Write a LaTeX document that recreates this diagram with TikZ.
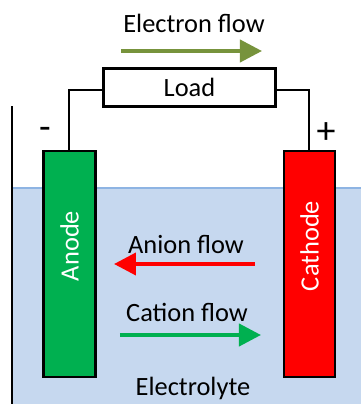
\documentclass[tikz,border=0pt]{standalone}
\usepackage{fontspec}
\setmainfont{Carlito}
\usetikzlibrary{arrows.meta}
\definecolor{anodegreen}{HTML}{00B050}
\definecolor{olive}{HTML}{77933C}
\definecolor{liquid}{HTML}{C6D8EF}
\definecolor{liquidedge}{HTML}{8EB4E3}
\begin{document}
\begin{tikzpicture}[x=0.5pt,y=0.5pt,every node/.style={font=\fontsize{13.2}{15}\selectfont},
		electrode/.style={draw=black,line width=1.4pt,minimum width=26pt,minimum height=113pt,inner sep=0pt},
		flow/.style={line width=2pt,-{Triangle[length=11pt,width=11pt]}}]
			\useasboundingbox (0,0) rectangle (361,404);
			\fill[liquid] (12,0) rectangle (361,216);
			\draw[liquidedge,line width=1pt] (12,216) -- (361,216);
			\draw[line width=1.4pt] (12,298) -- (12,0);
			
			\node[draw,line width=1.5pt,minimum width=86pt,minimum height=19pt,inner sep=0pt] (load) at (189.5,317) {Load};
			\node[electrode,fill=anodegreen] (anode) at (69.5,140) {};
			\node[electrode,fill=red,minimum width=25.5pt] (cathode) at (309.5,140) {};
			\node[rotate=90,text=white] (at) at (69.5,158) {Anode};
			\node[rotate=90,text=white] (ct) at (309.5,158) {Cathode};
			
			\node[font=\fontsize{19}{21}\selectfont] (minus) at (45,271) {-};
			\node[font=\fontsize{19}{21}\selectfont] (plus) at (326,271) {+};
			
			\node (elabel) at (194,381) {Electron flow};
			\node (alabel) at (186,159) {Anion flow};
			\node (clabel) at (187,92) {Cation flow};
			\node (liqlabel) at (193,16) {Electrolyte};
			
			\coordinate (e1) at (121,353);
			\coordinate (e2) at (262,353);
			\coordinate (a1) at (255,140);
			\coordinate (a2) at (114,140);
			\coordinate (c1) at (120,69);
			\coordinate (c2) at (261,69);
			
			\draw[line width=1pt] ([yshift=-1.5pt]load.west) -| (anode.north);
			\draw[line width=1pt] ([yshift=-1.5pt]load.east) -| (cathode.north);
			\draw[flow,olive] (e1) -- (e2);
			\draw[flow,red] (a1) -- (a2);
			\draw[flow,anodegreen] (c1) -- (c2);
		\end{tikzpicture}
\end{document}
